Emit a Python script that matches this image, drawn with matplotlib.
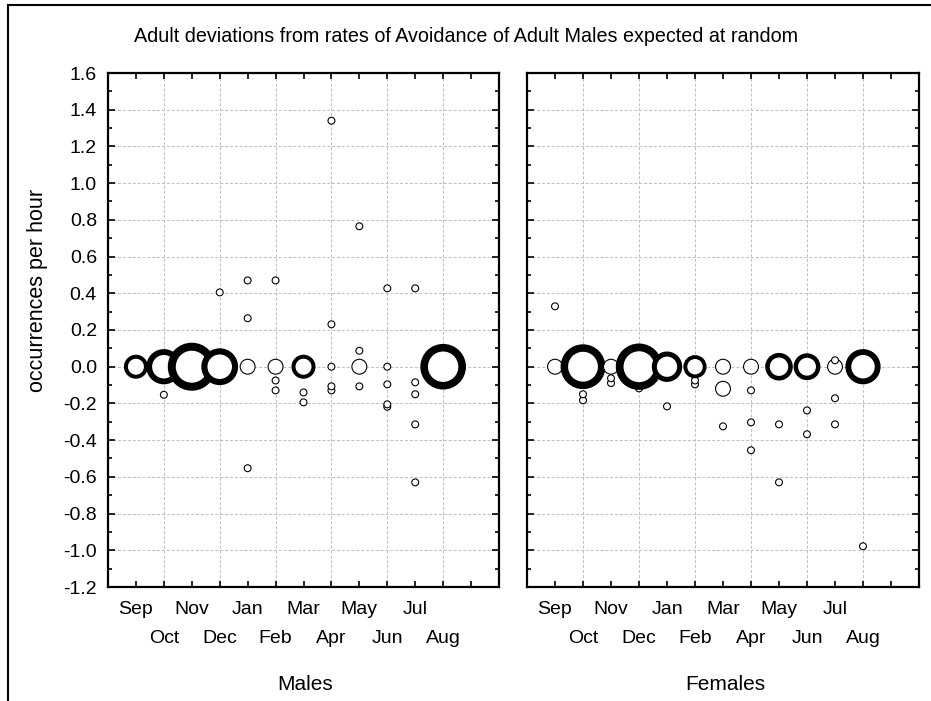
import matplotlib
matplotlib.use("Agg")
import matplotlib.pyplot as plt
from matplotlib.ticker import FuncFormatter
import numpy as np

plt.rcParams["font.family"] = ["Liberation Sans", "DejaVu Sans"]

TITLE = "Adult deviations from rates of Avoidance of Adult Males expected at random"
Y_LABEL = "occurrences per hour"
MONTHS = ["Sep", "Oct", "Nov", "Dec", "Jan", "Feb", "Mar", "Apr", "May", "Jun", "Jul", "Aug"]
PANELS = ["Males", "Females"]

# month index (Sep = 1 ... Aug = 12), deviation, bubble size (number of records)
male_month = [1, 2, 2, 3, 4, 4, 5, 5, 5, 5, 6, 6, 6, 6, 7, 7, 7,
              8, 8, 8, 8, 8, 9, 9, 9, 9, 10, 10, 10, 10, 10, 11, 11, 11, 11, 11, 12]
male_value = [0.0, 0.0, -0.153, 0.0, 0.0, 0.405, 0.0, 0.47, 0.264, -0.553,
              0.0, 0.47, -0.075, -0.129, 0.0, -0.14, -0.194,
              0.0, 1.34, 0.231, -0.107, -0.129, 0.0, 0.765, 0.087, -0.107,
              0.0, 0.427, -0.096, -0.205, -0.218,
              0.427, -0.085, -0.15, -0.314, -0.63, 0.0]
male_size = [3, 4.4, 1, 6, 4.6, 1, 2, 1, 1, 1,
             2, 1, 1, 1, 3, 1, 1,
             1, 1, 1, 1, 1, 2, 1, 1, 1,
             1, 1, 1, 1, 1,
             1, 1, 1, 1, 1, 5.7]

female_month = [1, 1, 2, 2, 2, 3, 3, 3, 4, 4, 5, 5, 6, 6, 6, 7, 7, 7,
                8, 8, 8, 8, 9, 9, 9, 10, 10, 10, 11, 11, 11, 11, 12, 12]
female_value = [0.0, 0.329, 0.0, -0.15, -0.183, 0.0, -0.063, -0.089,
                0.0, -0.118, 0.0, -0.216, 0.0, -0.075, -0.096,
                0.0, -0.12, -0.325, 0.0, -0.129, -0.303, -0.455,
                0.0, -0.314, -0.63, 0.0, -0.238, -0.368,
                0.0, 0.035, -0.172, -0.314, 0.0, -0.978]
female_size = [2, 1, 5.6, 1, 1, 2, 1, 1,
               5.8, 1, 3.8, 1, 2.9, 1, 1,
               2, 2, 1, 2, 1, 1, 1,
               3.45, 1, 1, 3.35, 1, 1,
               2, 1, 1, 1, 4.4, 1]

PX = 72.0 / 100.0  # points per pixel at 100 dpi

fig = plt.figure(figsize=(9.31, 7.01), dpi=100)
W, H = 931.0, 701.0

# outer frame (left and top edges)
fig.add_artist(plt.Line2D([7.5 / W, 7.5 / W], [0, 1 - 4.5 / H], transform=fig.transFigure,
                          color="black", lw=1.5))
fig.add_artist(plt.Line2D([7.5 / W, 1], [1 - 4.5 / H, 1 - 4.5 / H], transform=fig.transFigure,
                          color="black", lw=1.5))

ax_rects = [(108, 73, 499, 587), (527, 73, 919, 587)]
data = [(male_month, male_value, male_size), (female_month, female_value, female_size)]

for i, ((x0, y0, x1, y1), (mon, val, siz), name) in enumerate(zip(ax_rects, data, PANELS)):
    ax = fig.add_axes([x0 / W, 1 - y1 / H, (x1 - x0) / W, (y1 - y0) / H])
    mon = np.asarray(mon, float)
    val = np.asarray(val, float)
    siz = np.asarray(siz, float)
    order = np.lexsort((val, mon))
    mon, val, siz = mon[order], val[order], siz[order]

    r_out = 4.0 * siz                                   # outer radius, px
    edge = np.where(siz > 2.5, r_out / 3.0, 1.1)        # ring thickness, px
    diam_pt = 2.0 * (r_out - edge / 2.0) * PX
    ax.scatter(mon, val, s=diam_pt ** 2, facecolors="white", edgecolors="black",
               linewidths=edge * PX, zorder=3, clip_on=False)

    ax.set_xlim(0, 14)
    ax.set_ylim(-1.2, 1.6)

    # odd months on the first label row, even months (with grid) on the second
    odd_pos = np.arange(1, 14, 2)
    even_pos = np.arange(2, 13, 2)
    ax.set_xticks(odd_pos, MONTHS[0::2] + [""])
    ax.set_xticks(even_pos, MONTHS[1::2], minor=True)
    ax.set_yticks(np.arange(-12, 17, 2) / 10.0)
    ax.set_yticks(np.arange(-11, 16, 2) / 10.0, minor=True)
    ax.yaxis.set_major_formatter(FuncFormatter(lambda v, p: f"{round(v, 1) + 0.0:.1f}"))

    ax.tick_params(axis="both", which="both", direction="in", top=True, right=True,
                   labelsize=14, width=1.2, color="black")
    ax.tick_params(axis="x", which="major", length=4, pad=10)
    ax.tick_params(axis="x", which="minor", length=4, pad=31)
    ax.tick_params(axis="y", which="major", length=5, pad=8)
    ax.tick_params(axis="y", which="minor", length=3, labelleft=False)
    if i == 1:
        ax.tick_params(axis="y", labelleft=False)

    ax.grid(False)
    ax.xaxis.grid(True, which="minor", color="#bdbdbd", linestyle=(0, (3, 2)), lw=0.7)
    ax.yaxis.grid(True, which="major", color="#bdbdbd", linestyle=(0, (3, 2)), lw=0.7)
    ax.set_axisbelow(True)
    for sp in ax.spines.values():
        sp.set_linewidth(1.6)
        sp.set_zorder(4)

    fig.text((x0 + x1) / 2 / W + 2 / W, 1 - 684 / H, name, ha="center", va="center", fontsize=15)

fig.text(465.5 / W, 1 - 37 / H, TITLE, ha="center", va="center", fontsize=14.2)
fig.text(38 / W, 1 - 290 / H, Y_LABEL, ha="center", va="center", rotation=90, fontsize=15.5)

fig.savefig("out.png", dpi=100)
